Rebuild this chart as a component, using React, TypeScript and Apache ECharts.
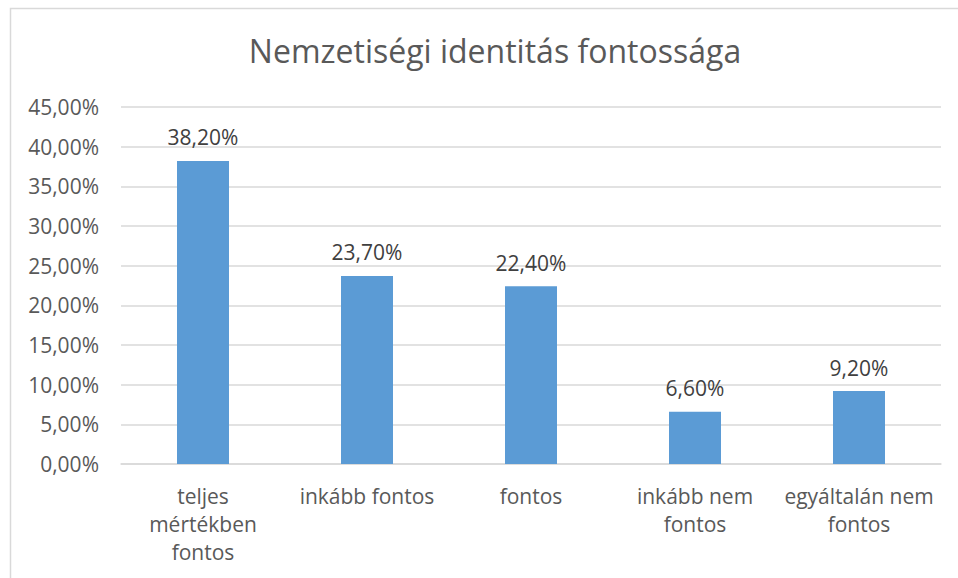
import React, { useEffect, useRef } from "react";
import * as echarts from "echarts";

const categories = [
  "teljes\nmértékben\nfontos",
  "inkább fontos",
  "fontos",
  "inkább nem\nfontos",
  "egyáltalán nem\nfontos",
];
const values = [38.2, 23.7, 22.4, 6.6, 9.2];
const yMin = 0;
const yMax = 45;
const yInterval = 5;
const titleText = "Nemzetiségi identitás fontossága";

const fmt = (v: number) => v.toFixed(2).replace(".", ",") + "%";

export default function App() {
  const ref = useRef<HTMLDivElement>(null);
  useEffect(() => {
    if (!ref.current) return;
    const chart = echarts.init(ref.current, undefined, { renderer: "svg" });
    chart.setOption({
      animation: false,
      backgroundColor: "#ffffff",
      textStyle: { fontFamily: "Open Sans" },
      title: {
        text: titleText,
        left: 490,
        textAlign: "center",
        top: 29,
        textStyle: { fontFamily: "Open Sans", fontSize: 32, fontWeight: "normal", color: "#595959" },
      },
      graphic: [
        {
          type: "rect",
          shape: { x: 10.5, y: 8.5, width: 1000, height: 1000 },
          style: { fill: "none", stroke: "#d9d9d9", lineWidth: 1.5 },
          silent: true,
        },
      ],
      grid: { left: 121, right: 17, top: 107, bottom: 114, containLabel: false },
      xAxis: {
        type: "category",
        data: categories,
        axisTick: { show: false },
        axisLine: { show: true, lineStyle: { color: "#d9d9d9", width: 1.5 } },
        axisLabel: {
          interval: 0,
          margin: 18,
          fontSize: 21,
          lineHeight: 28,
          color: "#595959",
          fontFamily: "Open Sans",
        },
      },
      yAxis: {
        type: "value",
        min: yMin,
        max: yMax,
        interval: yInterval,
        axisLine: { show: false },
        axisTick: { show: false },
        splitLine: { lineStyle: { color: "#d9d9d9", width: 1.5 } },
        axisLabel: {
          formatter: (v: number) => fmt(v),
          fontSize: 21,
          margin: 22,
          color: "#595959",
          fontFamily: "Open Sans",
        },
      },
      series: [
        {
          type: "bar",
          data: values,
          barWidth: 52,
          itemStyle: { color: "#5b9bd5" },
          label: {
            show: true,
            position: "top",
            distance: 13,
            formatter: (p: any) => fmt(p.value),
            fontSize: 21,
            color: "#404040",
            fontFamily: "Open Sans",
          },
        },
      ],
    });
    return () => chart.dispose();
  }, []);
  return (
    <div
      ref={ref}
      style={{ position: "fixed", left: 0, top: 0, width: 958, height: 578 }}
    />
  );
}
